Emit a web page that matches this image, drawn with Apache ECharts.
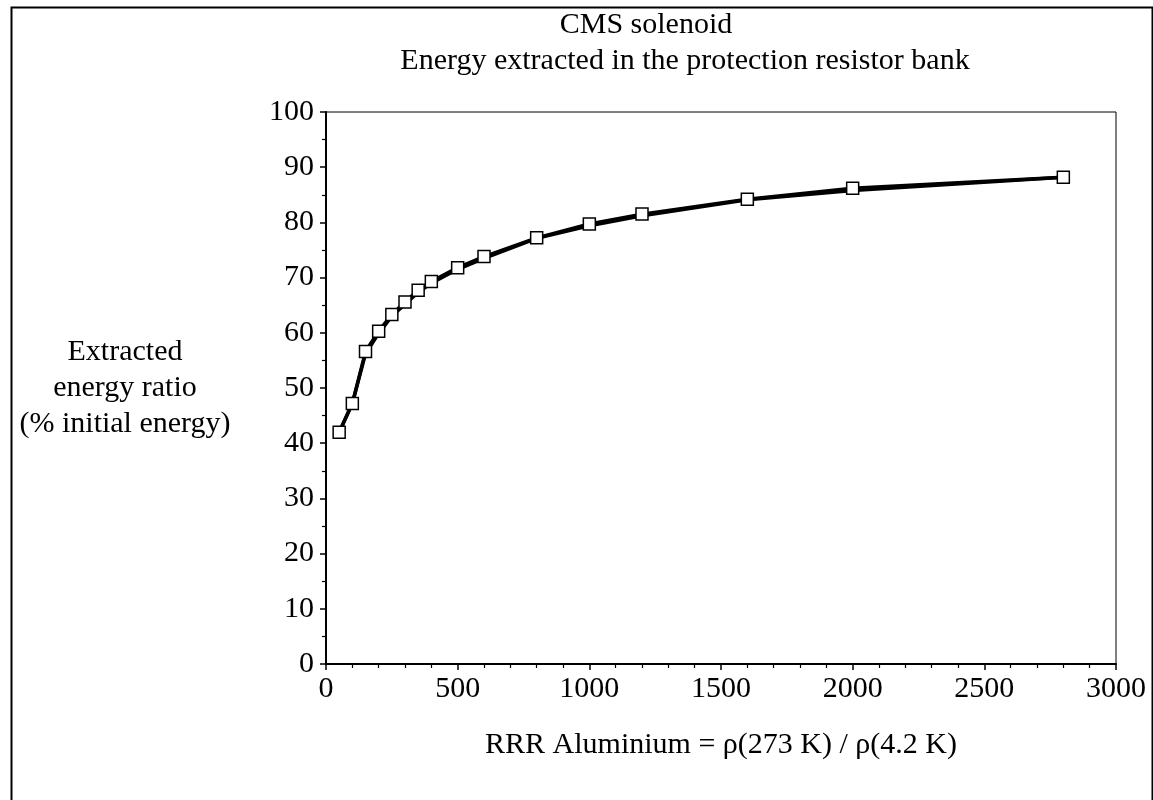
<!DOCTYPE html>
<html>
<head>
<meta charset="utf-8">
<script src="https://cdn.jsdelivr.net/npm/echarts@6/dist/echarts.min.js"></script>
<style>
html,body{margin:0;padding:0;background:#fff;}
#chart{width:1153px;height:800px;}
</style>
</head>
<body>
<div id="chart"></div>
<script>
// RRR values (x)
const rrr = [50, 100, 150, 200, 250, 300, 350, 400, 500, 600, 800, 1000, 1200, 1600, 2000, 2800];
// Extracted energy ratio (% of initial energy), first curve (with markers)
const energyA = [42.0, 47.2, 56.6, 60.3, 63.3, 65.6, 67.7, 69.3, 71.8, 73.8, 77.2, 79.7, 81.5, 84.2, 86.2, 88.2];
// second, nearly identical curve
const energyB = [42.0, 47.2, 56.2, 59.9, 63.0, 65.2, 67.3, 69.0, 71.5, 73.5, 77.1, 79.4, 81.2, 84.1, 85.8, 88.2];
const titleLine1 = 'CMS solenoid';
const titleLine2 = 'Energy extracted in the protection resistor bank';
const xTitle = 'RRR Aluminium = \u03c1(273 K) / \u03c1(4.2 K)';
const yTitle = 'Extracted\nenergy ratio\n(% initial energy)';

const font = 'Liberation Serif, Times New Roman, serif';
const fs = 30;
const pairs = (ys) => rrr.map((x, i) => [x, ys[i]]);

const chart = echarts.init(document.getElementById('chart'), null, {renderer: 'canvas'});
chart.setOption({
  backgroundColor: '#fff',
  animation: false,
  title: [{
    text: titleLine1,
    left: 641, top: 5, textAlign: 'center',
    textStyle: {fontFamily: font, fontSize: fs, fontWeight: 'normal', color: '#000'}
  }, {
    text: titleLine2,
    left: 680, top: 41, textAlign: 'center',
    textStyle: {fontFamily: font, fontSize: fs, fontWeight: 'normal', color: '#000'}
  }],
  graphic: [{
    type: 'rect', left: 9, top: 5,
    shape: {width: 1141, height: 820},
    style: {fill: 'none', stroke: '#000', lineWidth: 2}, silent: true, z: -1
  }],
  grid: {left: 326, right: 37, top: 112, bottom: 136, show: true, borderColor: '#000', borderWidth: 1},
  xAxis: {
    type: 'value', min: 0, max: 3000, interval: 500,
    name: xTitle, nameLocation: 'middle', nameGap: 66,
    nameTextStyle: {fontFamily: font, fontSize: fs, color: '#000'},
    axisLine: {show: true, onZero: false, lineStyle: {color: '#000', width: 2}},
    axisTick: {show: true, inside: false, length: 6, lineStyle: {color: '#000', width: 1.5}},
    minorTick: {show: true, splitNumber: 5, length: 4, lineStyle: {color: '#000', width: 1.2}},
    splitLine: {show: false},
    axisLabel: {fontFamily: font, fontSize: fs, color: '#000', margin: 10, formatter: (v) => String(v)}
  },
  yAxis: {
    type: 'value', min: 0, max: 100, interval: 10,
    name: yTitle, nameLocation: 'middle', nameRotate: 0, nameGap: 201,
    nameTextStyle: {fontFamily: font, fontSize: fs, color: '#000', align: 'center', lineHeight: 36},
    axisLine: {show: true, lineStyle: {color: '#000', width: 2}},
    axisTick: {show: true, inside: false, length: 6, lineStyle: {color: '#000', width: 1.5}},
    minorTick: {show: true, splitNumber: 2, length: 4, lineStyle: {color: '#000', width: 1.2}},
    splitLine: {show: false},
    axisLabel: {fontFamily: font, fontSize: fs, color: '#000', margin: 12, formatter: (v) => String(v)}
  },
  series: [{
    type: 'line', data: pairs(energyB),
    showSymbol: false, symbol: 'none',
    lineStyle: {color: '#000', width: 3.5}, z: 2
  }, {
    type: 'line', data: pairs(energyA),
    symbol: 'rect', symbolSize: 12, showSymbol: true,
    itemStyle: {color: '#fff', borderColor: '#000', borderWidth: 1.5},
    lineStyle: {color: '#000', width: 3.5}, z: 3
  }]
});
</script>
</body>
</html>
